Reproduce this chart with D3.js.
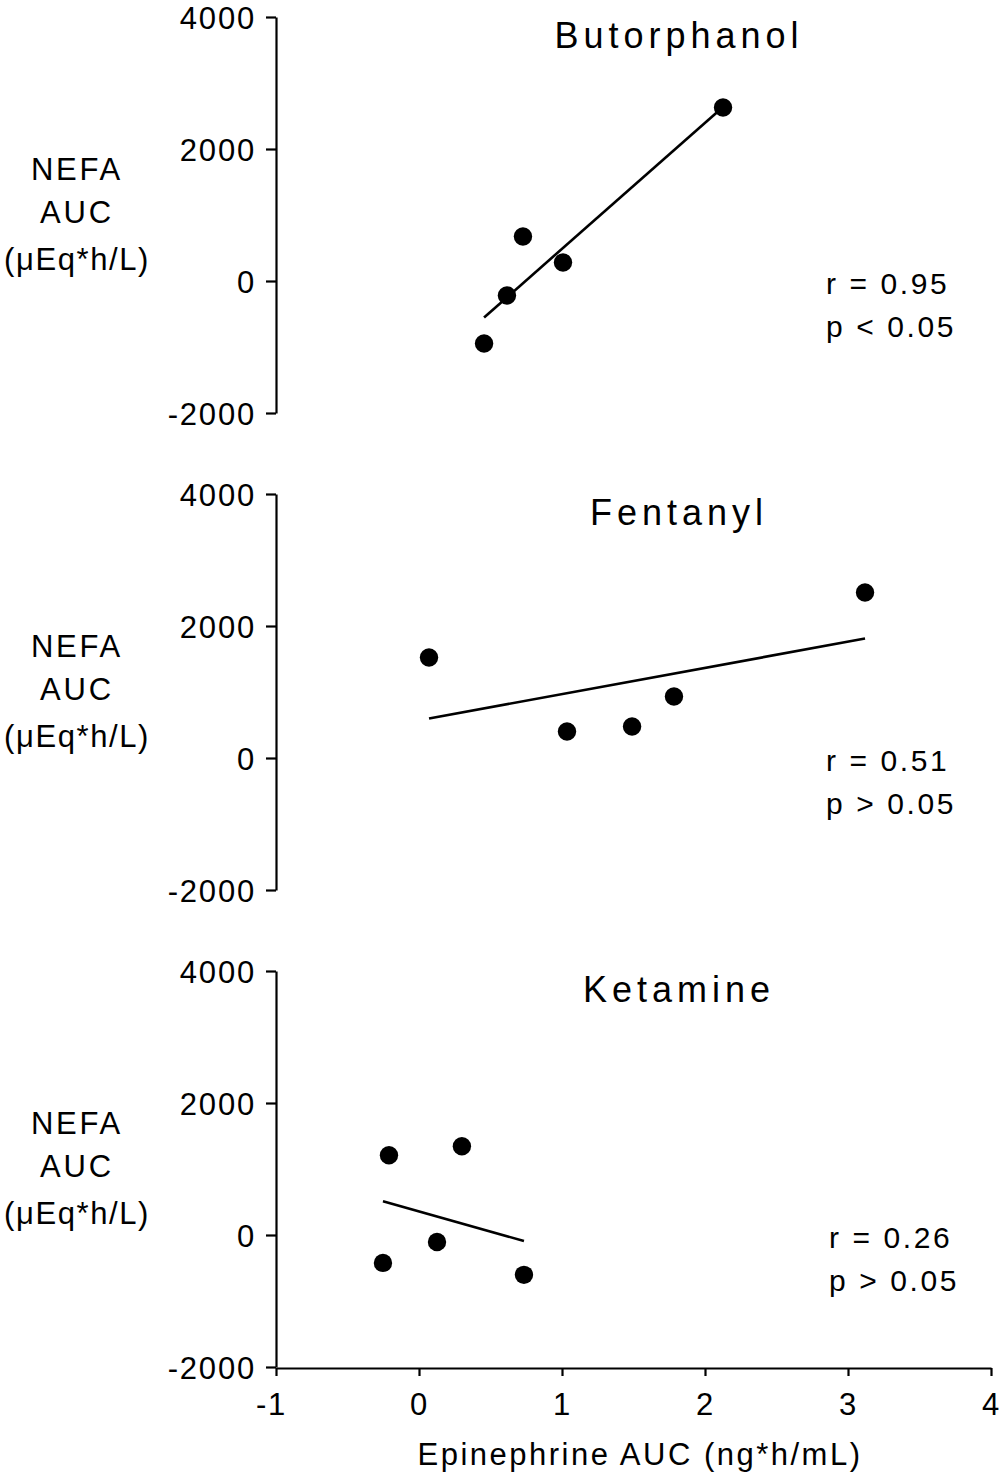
<!DOCTYPE html>
<html>
<head>
<meta charset="utf-8">
<script src="https://cdn.jsdelivr.net/npm/d3@7"></script>
<style>
  html, body { margin: 0; padding: 0; background: #fff; }
  svg { display: block; }
  text { font-family: "Liberation Sans", Arial, Helvetica, sans-serif; fill: #000; }
</style>
</head>
<body>
<svg id="chart" width="1000" height="1476"></svg>
<script>
// ---- data ----
const drugs = ["Butorphanol", "Fentanyl", "Ketamine"];
const xTicks = [-1, 0, 1, 2, 3, 4];
const yTicks = [-2000, 0, 2000, 4000];

const butorphanolX = [0.455, 0.615, 0.727, 1.007, 2.126];
const butorphanolY = [-947, -220, 674, 280, 2629];
const fentanylX = [0.07, 1.035, 1.49, 1.783, 3.119];
const fentanylY = [1523, 402, 477, 932, 2507];
const ketamineX = [-0.21, 0.30, -0.252, 0.126, 0.734];
const ketamineY = [1208, 1344, -423, -106, -604];

const fitX = [[0.455, 2.126], [0.07, 3.119], [-0.252, 0.734]];
const fitY = [[-553, 2637], [598, 1810], [513, -91]];

const rLabels = ["r = 0.95", "r = 0.51", "r = 0.26"];
const pLabels = ["p < 0.05", "p > 0.05", "p > 0.05"];
const yLabelLines = ["NEFA", "AUC", "(\u03BCEq*h/L)"];
const xLabel = "Epinephrine AUC (ng*h/mL)";

const seriesX = [butorphanolX, fentanylX, ketamineX];
const seriesY = [butorphanolY, fentanylY, ketamineY];

// ---- layout ----
const svg = d3.select("#chart");
const axisX = 276, axisRight = 991;
const panelTops = [17, 494, 971];
const panelH = 396;
const fmt = d => String(d); // plain hyphen minus like the original

const x = d3.scaleLinear().domain([-1, 4]).range([axisX, axisRight]);

drugs.forEach((name, i) => {
  const top = panelTops[i];
  const y = d3.scaleLinear().domain([-2000, 4000]).range([top + panelH, top]);
  const g = svg.append("g");

  // y axis
  const yAxis = d3.axisLeft(y).tickValues(yTicks).tickSizeInner(10).tickSizeOuter(0).tickPadding(10)
    .tickFormat(fmt);
  const ya = g.append("g").attr("transform", `translate(${axisX},0)`).call(yAxis);
  ya.select(".domain").attr("stroke", "#000").attr("stroke-width", 2.2);
  ya.selectAll(".tick line").attr("stroke", "#000").attr("stroke-width", 2.2);
  ya.selectAll(".tick text").attr("font-size", 31).attr("letter-spacing", 1.8)
    .attr("font-family", "'Liberation Sans', Arial, sans-serif").attr("fill", "#000")
    .attr("dy", "0.36em");

  // y label
  const yl = g.append("text").attr("text-anchor", "middle").attr("font-size", 31);
  const lineYs = [163, 206, 253];
  const lineSp = [2.8, 2.8, 1.6];
  yLabelLines.forEach((t, k) => {
    yl.append("tspan").attr("x", 77).attr("y", top + lineYs[k]).attr("letter-spacing", lineSp[k]).text(t);
  });

  // title
  g.append("text").attr("x", 679).attr("y", top + 31).attr("text-anchor", "middle")
    .attr("font-size", 36).attr("letter-spacing", 5).text(name);

  // fit line
  const line = d3.line().x(d => x(d[0])).y(d => y(d[1]));
  g.append("path").datum(fitX[i].map((v, k) => [v, fitY[i][k]]))
    .attr("d", line).attr("fill", "none").attr("stroke", "#000").attr("stroke-width", 2.6);

  // points
  g.selectAll("ellipse").data(seriesX[i].map((v, k) => [v, seriesY[i][k]]))
    .join("ellipse")
    .attr("cx", d => x(d[0])).attr("cy", d => y(d[1]))
    .attr("rx", 9.2).attr("ry", 9.2).attr("fill", "#000");

  // stats
  const sx = i === 2 ? 829 : 826;
  g.append("text").attr("x", sx).attr("y", top + 277).attr("font-size", 30).attr("letter-spacing", 2.6).text(rLabels[i]);
  g.append("text").attr("x", sx).attr("y", top + 320).attr("font-size", 30).attr("letter-spacing", 2.6).text(pLabels[i]);

  // x axis on last panel
  if (i === drugs.length - 1) {
    const xAxis = d3.axisBottom(x).tickValues(xTicks).tickSizeInner(8).tickSizeOuter(0).tickPadding(17)
      .tickFormat(fmt);
    const xa = g.append("g").attr("transform", `translate(0,${top + panelH + 1})`).call(xAxis);
    xa.select(".domain").attr("stroke", "#000").attr("stroke-width", 2.2);
    xa.selectAll(".tick line").attr("stroke", "#000").attr("stroke-width", 2.2);
    xa.selectAll(".tick text").attr("font-size", 31).attr("letter-spacing", 1.8)
      .attr("font-family", "'Liberation Sans', Arial, sans-serif").attr("fill", "#000")
      .attr("dx", d => d < 0 ? -5 : 0);
    g.append("text").attr("x", 640).attr("y", 1465).attr("text-anchor", "middle")
      .attr("font-size", 31).attr("letter-spacing", 2.5).text(xLabel);
  }
});
</script>
</body>
</html>
